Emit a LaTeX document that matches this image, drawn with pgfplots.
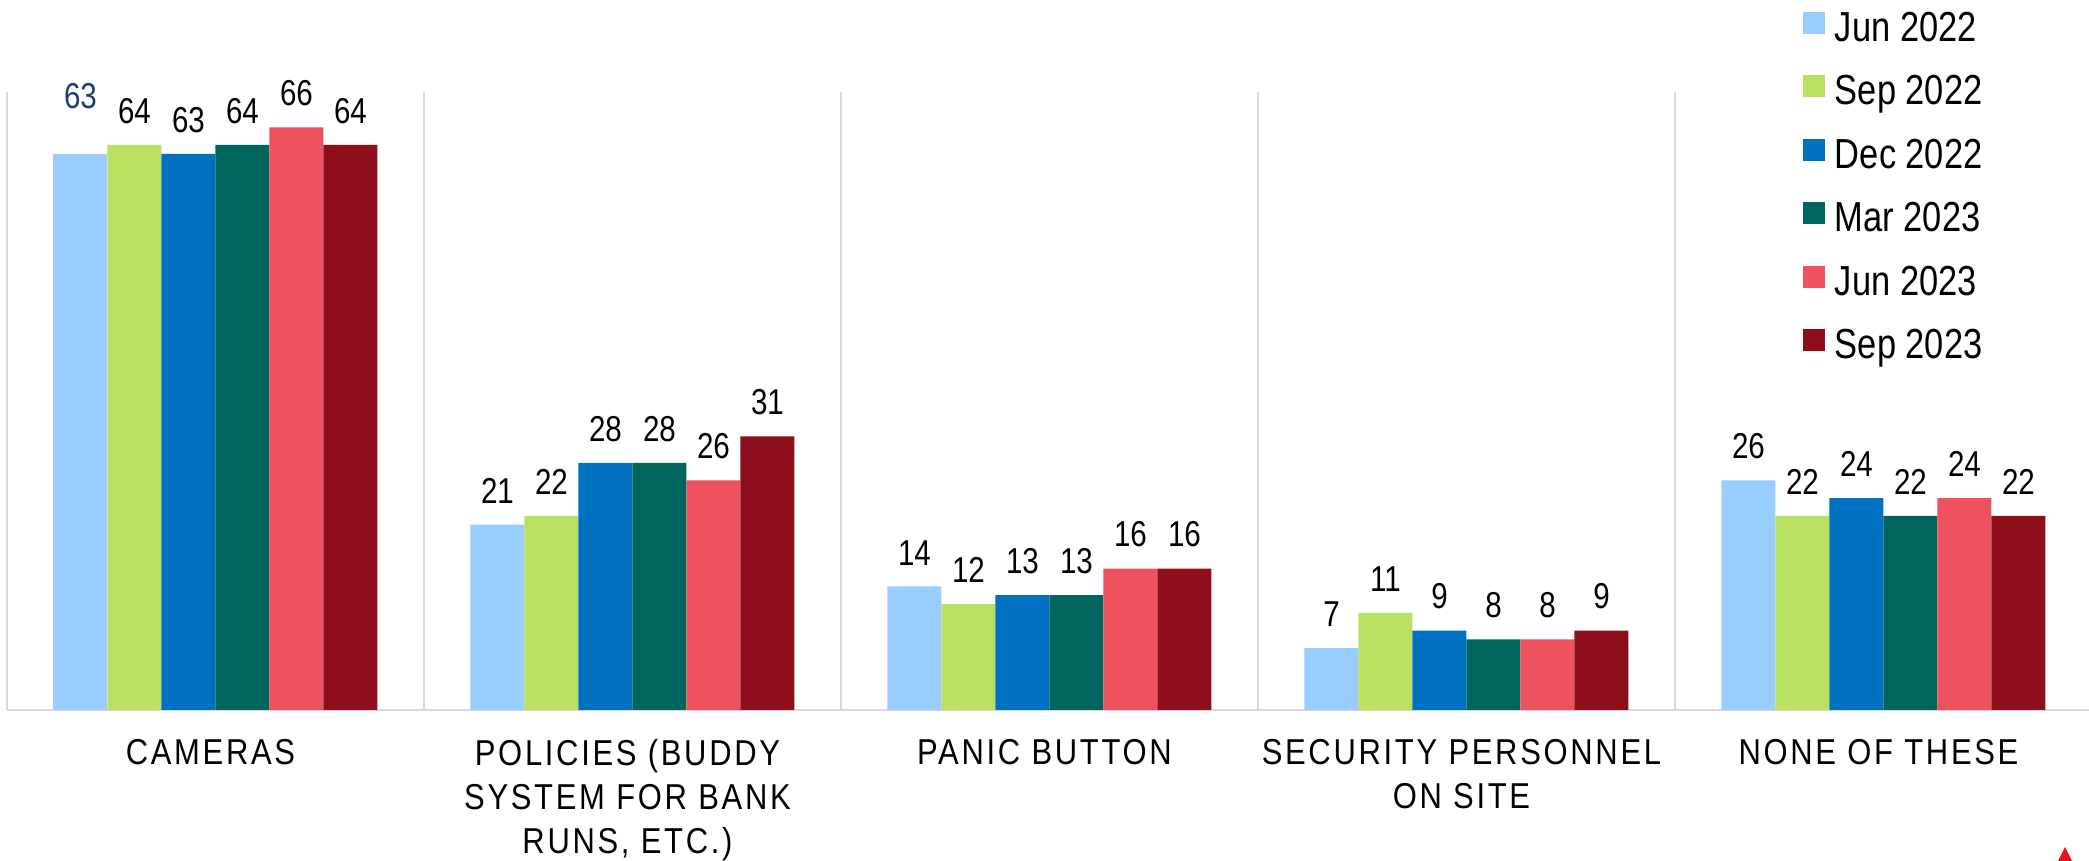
\documentclass[border=0pt]{standalone}
\usepackage{pgfplots}
\pgfplotsset{compat=1.18}
\usepackage{fontspec}
\setmainfont{Liberation Sans}[FakeStretch=0.82]
\newfontfamily\catfamily{Liberation Sans}[FakeStretch=0.86,LetterSpace=7.5]
\definecolor{cA}{HTML}{99CCFF}
\definecolor{cB}{HTML}{B9E060}
\definecolor{cC}{HTML}{0070C0}
\definecolor{cD}{HTML}{00655C}
\definecolor{cE}{HTML}{EE525E}
\definecolor{cF}{HTML}{8E0F1B}
\definecolor{navy}{HTML}{1F3A78}
\definecolor{gridgray}{HTML}{D9D9D9}
\definecolor{logored}{HTML}{E8141E}
\newcommand{\ls}{\rule[-5bp]{0pt}{25bp}}
\begin{document}
\begin{tikzpicture}
\useasboundingbox (0,0) rectangle (1044.5bp,430.5bp);
\begin{axis}[
  scale only axis, width=1042.5bp, height=309bp,
  at={(3.5bp,75.5bp)}, anchor=south west,
  xmin=-0.5, xmax=4.5, ymin=0, ymax=70,
  ybar, bar width=0.1295,
  axis x line*=bottom, axis y line=none,
  x axis line style={-, draw=gridgray, line width=1bp},
  xtick={0,1,2,3,4},
  xticklabels={CAMERAS, {POLICIES (BUDDY\\SYSTEM FOR BANK\\RUNS, ETC.)}, PANIC BUTTON, {SECURITY PERSONNEL\\ON SITE}, NONE OF THESE},
  major tick length=0pt, minor tick length=0pt,
  minor xtick={-0.5,0.5,1.5,2.5,3.5,4.5},
  xminorgrids, minor grid style={draw=gridgray, line width=1bp},
  xticklabel style={font=\catfamily\fontsize{18bp}{22bp}\selectfont, align=center, anchor=north, inner sep=0pt, yshift=-14.5bp, xshift=-2.5bp},
  nodes near coords,
  every node near coord/.append style={anchor=south, inner sep=0pt, yshift=10.5bp, font=\fontsize{18bp}{20bp}\selectfont, text=black},
  /pgf/number format/assume math mode=true,
  legend cell align=left,
  legend style={at={(0.8614,1.1472)}, anchor=north west, draw=none, fill=none, inner sep=0pt, outer sep=0pt, row sep=10.3bp, column sep=5bp, font=\fontsize{21bp}{25bp}\selectfont, nodes={inner sep=0pt}},
  legend image code/.code={\fill[#1,draw=none] (0bp,-5.5bp) rectangle (11bp,5.5bp);},
]
\addplot[fill=cA, draw=none, bar shift=-0.32375] coordinates {(1,21) (2,14) (3,7) (4,26)};
\addlegendentry{\ls Jun 2022}
\addplot[fill=cA, draw=none, bar shift=-0.32375, forget plot, every node near coord/.append style={text=navy, yshift=12bp}] coordinates {(0,63)};
\addplot[fill=cB, draw=none, bar shift=-0.19425] coordinates {(0,64) (1,22) (2,12) (3,11) (4,22)};
\addlegendentry{\ls Sep 2022}
\addplot[fill=cC, draw=none, bar shift=-0.06475] coordinates {(0,63) (1,28) (2,13) (3,9) (4,24)};
\addlegendentry{\ls Dec 2022}
\addplot[fill=cD, draw=none, bar shift=0.06475] coordinates {(0,64) (1,28) (2,13) (3,8) (4,22)};
\addlegendentry{\ls Mar 2023}
\addplot[fill=cE, draw=none, bar shift=0.19425] coordinates {(0,66) (1,26) (2,16) (3,8) (4,24)};
\addlegendentry{\ls Jun 2023}
\addplot[fill=cF, draw=none, bar shift=0.32375] coordinates {(0,64) (1,31) (2,16) (3,9) (4,22)};
\addlegendentry{\ls Sep 2023}
\end{axis}
\fill[logored] (1032.5bp,7bp) -- (1028.5bp,-1bp) -- (1036.5bp,-1bp) -- cycle;
\end{tikzpicture}
\end{document}
